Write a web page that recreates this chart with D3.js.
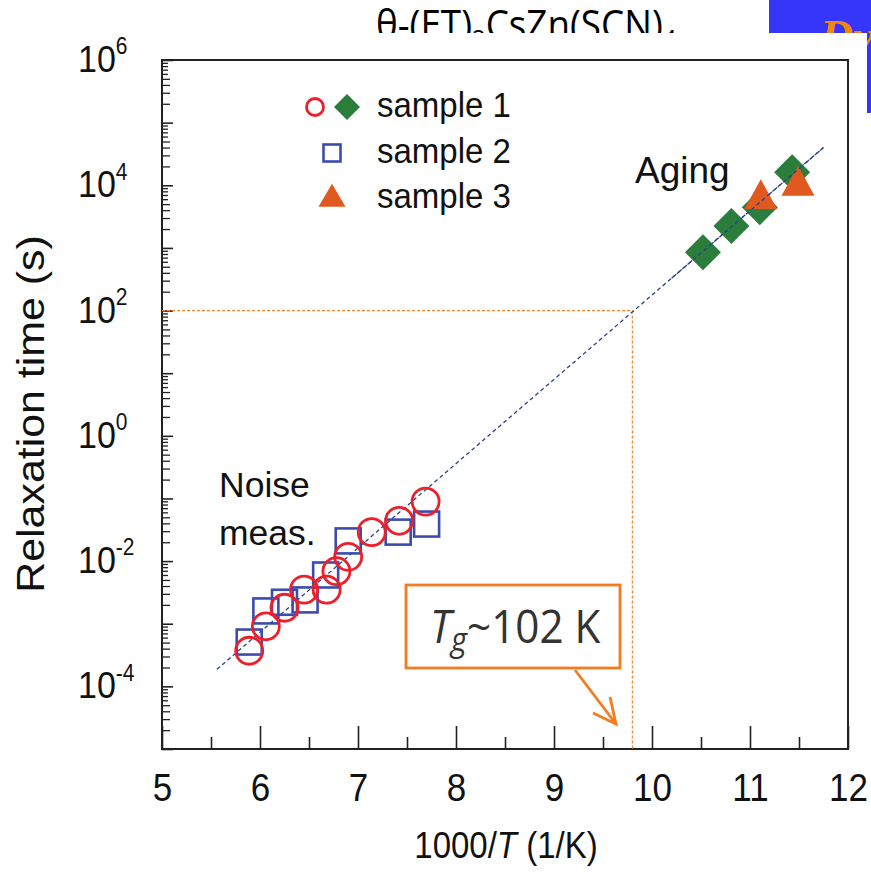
<!DOCTYPE html>
<html>
<head>
<meta charset="utf-8">
<script src="https://cdn.jsdelivr.net/npm/d3@7"></script>
<style>
  body { margin: 0; background: #fff; }
  svg { display: block; }
</style>
</head>
<body>
<svg id="chart" width="871" height="872"></svg>
<script>
// sample 1, noise measurement (red circles)
var s1NoiseX   = [5.89, 6.06, 6.25, 6.45, 6.68, 6.78, 6.90, 7.14, 7.42, 7.69];
var s1NoiseTau = [3.7e-4, 9.1e-4, 1.8e-3, 3.5e-3, 3.5e-3, 6.9e-3, 1.17e-2, 2.9e-2, 4.4e-2, 8.9e-2];
// sample 2, noise measurement (blue squares)
var s2X   = [5.89, 6.06, 6.25, 6.46, 6.67, 6.90, 7.41, 7.70];
var s2Tau = [5.1e-4, 1.6e-3, 2.2e-3, 2.4e-3, 6.0e-3, 2.1e-2, 2.9e-2, 3.9e-2];
// sample 1, aging (green diamonds)
var s1AgingX   = [10.52, 10.81, 11.10, 11.43];
var s1AgingTau = [850, 2240, 4470, 16200];
// sample 3, aging (orange triangles)
var s3X   = [11.11, 11.49];
var s3Tau = [6000, 9800];
// dashed fit line end points
var fitX   = [5.56, 11.75];
var fitTau = [1.87e-4, 4.0e4];
// glass transition marker
var tgX = 9.8, tgTau = 100;

var xTicks = [5, 6, 7, 8, 9, 10, 11, 12];
var xMinor = [5.5, 6.5, 7.5, 8.5, 9.5, 10.5, 11.5];
var yLabelExp = [-4, -2, 0, 2, 4, 6];

var svg = d3.select("#chart");
var font = "'Liberation Sans', Arial, sans-serif";
var sy = 1.1;   // the chart picture is a little stretched vertically

// slide background behind the chart picture
svg.append("rect").attr("x", 769).attr("y", 0).attr("width", 102).attr("height", 113).attr("fill", "#3636fb");
svg.append("text").attr("x", 820).attr("y", 52)
  .attr("font-family", "'Liberation Serif', serif").attr("font-style", "italic").attr("font-weight", "bold")
  .attr("font-size", 46).attr("fill", "#f0870a").text("Dy");

var title = svg.append("text").attr("transform", "translate(376,39) scale(0.92,1)")
  .attr("font-family", "'Open Sans', sans-serif").attr("font-size", 40).attr("fill", "#000");
title.append("tspan").text("θ-(ET)");
title.append("tspan").attr("dy", 9).attr("font-size", 26).text("2");
title.append("tspan").attr("dy", -9).text("CsZn(SCN)");
title.append("tspan").attr("dy", 9).attr("font-size", 26).text("4");

// chart picture (white) covering lower part of slide
svg.append("rect").attr("x", 0).attr("y", 33).attr("width", 867).attr("height", 839).attr("fill", "#fff");

var x = d3.scaleLinear().domain([5, 12]).range([162, 848]);
var y = d3.scaleLog().domain([1e-5, 1e6]).range([749, 60]);

// frame
svg.append("rect")
  .attr("x", x(5)).attr("y", y(1e6))
  .attr("width", x(12) - x(5)).attr("height", y(1e-5) - y(1e6))
  .attr("fill", "none").attr("stroke", "#222").attr("stroke-width", 2);

// x axis
var gx = svg.append("g").attr("transform", "translate(0," + y(1e-5) + ")")
  .call(d3.axisBottom(x).tickValues(xTicks).tickSize(-23).tickFormat(""));
gx.select(".domain").remove();
gx.selectAll("line").attr("stroke", "#222").attr("stroke-width", 1.6);
gx.selectAll(".tick").append("text")
  .attr("transform", "translate(0,52) scale(1," + sy + ")")
  .attr("text-anchor", "middle").attr("font-family", font).attr("font-size", 35).attr("fill", "#111")
  .text(function (d) { return d; });

var gxm = svg.append("g").attr("transform", "translate(0," + y(1e-5) + ")")
  .call(d3.axisBottom(x).tickValues(xMinor).tickSize(-12).tickFormat(""));
gxm.select(".domain").remove();
gxm.selectAll("line").attr("stroke", "#222").attr("stroke-width", 1.6);

// y axis ticks
var decades = d3.range(-5, 7).map(function (e) { return Math.pow(10, e); });
var minor = [];
decades.forEach(function (d) {
  if (d >= 1e6) return;
  for (var k = 2; k <= 9; k++) minor.push(d * k);
});
var gy = svg.append("g").attr("transform", "translate(" + x(5) + ",0)")
  .call(d3.axisLeft(y).tickValues(decades).tickSize(-11).tickFormat(""));
gy.select(".domain").remove();
gy.selectAll("line").attr("stroke", "#222").attr("stroke-width", 1.6);
var gym = svg.append("g").attr("transform", "translate(" + x(5) + ",0)")
  .call(d3.axisLeft(y).tickValues(minor).tickSize(-7).tickFormat(""));
gym.select(".domain").remove();
gym.selectAll("line").attr("stroke", "#222").attr("stroke-width", 1.3)
  .attr("x2", function (d) {
    var m = Math.round(d / Math.pow(10, Math.floor(Math.log10(d) + 1e-9)));
    return m <= 5 ? 8 : 6;
  });

// y tick labels 10^n
yLabelExp.forEach(function (e) {
  var t = svg.append("text").attr("font-family", font).attr("fill", "#111")
    .attr("transform", "translate(78," + (y(Math.pow(10, e)) + 12) + ") scale(1," + sy + ")");
  t.append("tspan").attr("font-size", 34).text("10");
  t.append("tspan").attr("font-size", 21).attr("dy", -16).text(e < 0 ? "-" + (-e) : String(e));
});

// axis titles
svg.append("text").attr("transform", "translate(44,414) scale(1," + sy + ") rotate(-90)")
  .attr("text-anchor", "middle").attr("font-family", font).attr("font-size", 39).attr("fill", "#111")
  .text("Relaxation time (s)");
var xt = svg.append("text").attr("transform", "translate(506,858) scale(1," + sy + ")")
  .attr("text-anchor", "middle").attr("font-family", font).attr("font-size", 33).attr("fill", "#111");
xt.append("tspan").text("1000/");
xt.append("tspan").attr("font-style", "italic").text("T");
xt.append("tspan").text(" (1/K)");

// Tg guide lines
var orange = "#f5892a";
svg.append("line").attr("x1", x(5)).attr("x2", x(tgX)).attr("y1", y(tgTau)).attr("y2", y(tgTau))
  .attr("stroke", orange).attr("stroke-width", 1.2).attr("stroke-dasharray", "3,2");
svg.append("line").attr("x1", x(tgX)).attr("x2", x(tgX)).attr("y1", y(tgTau)).attr("y2", y(1e-5))
  .attr("stroke", orange).attr("stroke-width", 1.2).attr("stroke-dasharray", "3,2");

// fit line
function fitLine(x0) {
  var t = (x0 - fitX[0]) / (fitX[1] - fitX[0]);
  svg.append("line")
    .attr("x1", x(x0)).attr("y1", y(fitTau[0] * Math.pow(fitTau[1] / fitTau[0], t)))
    .attr("x2", x(fitX[1])).attr("y2", y(fitTau[1]))
    .attr("stroke", "#2b3f8c").attr("stroke-width", 1.3).attr("stroke-dasharray", "4,3");
}
fitLine(fitX[0]);

// markers
function pts(xs, ys) { return xs.map(function (v, i) { return [v, ys[i]]; }); }

svg.append("g").selectAll("rect").data(pts(s2X, s2Tau)).enter().append("rect")
  .attr("x", function (d) { return x(d[0]) - 12.5; })
  .attr("y", function (d) { return y(d[1]) - 12.5; })
  .attr("width", 25).attr("height", 25)
  .attr("fill", "none").attr("stroke", "#3b4cae").attr("stroke-width", 2.6);

svg.append("g").selectAll("circle").data(pts(s1NoiseX, s1NoiseTau)).enter().append("circle")
  .attr("cx", function (d) { return x(d[0]); })
  .attr("cy", function (d) { return y(d[1]); })
  .attr("r", 13.5)
  .attr("fill", "none").attr("stroke", "#ec1f2b").attr("stroke-width", 2.8);

var diamond = function (h) { return "M0," + (-h) + "L" + h + ",0L0," + h + "L" + (-h) + ",0Z"; };
var triangle = function (b, hgt) {
  return "M0," + (-hgt * 2 / 3) + "L" + (b / 2) + "," + (hgt / 3) + "L" + (-b / 2) + "," + (hgt / 3) + "Z";
};

svg.append("g").selectAll("path").data(pts(s1AgingX, s1AgingTau)).enter().append("path")
  .attr("transform", function (d) { return "translate(" + x(d[0]) + "," + y(d[1]) + ")"; })
  .attr("d", diamond(18)).attr("fill", "#2a7d3b");

svg.append("g").selectAll("path").data(pts(s3X, s3Tau)).enter().append("path")
  .attr("transform", function (d) { return "translate(" + x(d[0]) + "," + y(d[1]) + ")"; })
  .attr("d", triangle(33, 30)).attr("fill", "#e05a1f");

// fit line shows on top of the aging symbols
fitLine(10.2);

// legend
var leg = svg.append("g");
leg.append("circle").attr("cx", 315).attr("cy", 107).attr("r", 8.5)
  .attr("fill", "none").attr("stroke", "#ec1f2b").attr("stroke-width", 2.8);
leg.append("path").attr("transform", "translate(347,107)").attr("d", diamond(13)).attr("fill", "#2a7d3b");
leg.append("rect").attr("x", 323.5).attr("y", 144.5).attr("width", 17).attr("height", 17)
  .attr("fill", "none").attr("stroke", "#3b4cae").attr("stroke-width", 2.6);
leg.append("path").attr("transform", "translate(332,199)").attr("d", triangle(27, 23)).attr("fill", "#e05a1f");
["sample 1", "sample 2", "sample 3"].forEach(function (s, i) {
  leg.append("text").attr("transform", "translate(377," + (117 + i * 45.5) + ") scale(1,1.05)")
    .attr("font-family", font).attr("font-size", 33).attr("fill", "#111").text(s);
});

// annotations
svg.append("text").attr("x", 635).attr("y", 183).attr("font-family", font).attr("font-size", 37)
  .attr("fill", "#111").text("Aging");
svg.append("text").attr("x", 219).attr("y", 497).attr("font-family", font).attr("font-size", 35.5)
  .attr("fill", "#111").text("Noise");
svg.append("text").attr("x", 219).attr("y", 545).attr("font-family", font).attr("font-size", 35.5)
  .attr("fill", "#111").text("meas.");

// Tg call-out box and arrow
svg.append("rect").attr("x", 406).attr("y", 585).attr("width", 214).attr("height", 83)
  .attr("fill", "#fff").attr("stroke", "#f47b20").attr("stroke-width", 2.8);
var tg = svg.append("text").attr("transform", "translate(430,643) scale(0.96,1.05)")
  .attr("font-family", "'Open Sans', sans-serif").attr("font-size", 44).attr("fill", "#333");
tg.append("tspan").attr("font-style", "italic").text("T");
tg.append("tspan").attr("font-style", "italic").attr("font-size", 32).attr("dy", 8).text("g");
tg.append("tspan").attr("dy", -8).text("~102 K");
svg.append("path").attr("d", "M575,670L616,724M593,713L616,724L610,697")
  .attr("fill", "none").attr("stroke", "#f47b20").attr("stroke-width", 2.8);
</script>
</body>
</html>
